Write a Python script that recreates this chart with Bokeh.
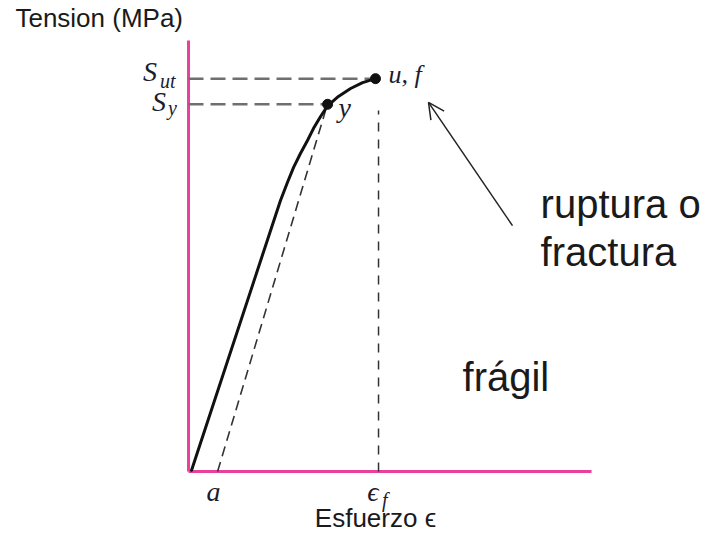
from bokeh.plotting import figure
from bokeh.models import Range1d, Arrow, OpenHead
from bokeh.core.properties import value
from bokeh.embed import file_html
from bokeh.resources import INLINE

# ---- data (strain normalised to eps_f = 1, stress normalised to S_ut = 1) ----
curve_strain = [0.016, 0.484, 0.521, 0.553, 0.589, 0.626, 0.658, 0.695, 0.732,
                0.789, 0.853, 0.916, 0.984]
curve_stress = [0.003, 0.688, 0.734, 0.772, 0.807, 0.840, 0.871, 0.901, 0.928,
                0.952, 0.972, 0.987, 0.997]

S_ut = 0.997
S_y = 0.932
eps_u = 0.984
eps_y = 0.732
eps_f = 1.0
a_off = 0.153
offset_end = [0.721, 0.916]

axis_x_end = 2.121
axis_y_end = 1.094

arrow_tail = [1.705, 0.624]
arrow_head = [1.263, 0.937]

pink = "#e9409c"
ink = "#1c1c30"

Y_PX = 394.0  # pixels per stress unit

p = figure(width=702, height=534, output_backend="svg", toolbar_location=None,
           x_range=Range1d(-0.9895, 2.705), y_range=Range1d(-0.1599, 1.1954),
           x_axis_type=None, y_axis_type=None, min_border=0)
p.outline_line_color = None
p.grid.visible = False

# axes (pink)
p.segment(x0=[0, 0], y0=[0, 0], x1=[axis_x_end, 0], y1=[0, axis_y_end],
          line_color=pink, line_width=3)

# horizontal dashed guides
p.segment(x0=[0, 0], y0=[S_ut, S_y], x1=[eps_u, eps_y - 0.02], y1=[S_ut, S_y],
          line_color="#6f6f6f", line_width=2.5, line_dash="15 7")
# vertical dashed at eps_f
p.segment(x0=[eps_f], y0=[0], x1=[eps_f], y1=[0.916],
          line_color="#333333", line_width=1.5, line_dash="9 8")
# offset (unloading) dashed line
p.segment(x0=[a_off], y0=[0], x1=[offset_end[0]], y1=[offset_end[1]],
          line_color="#333333", line_width=1.6, line_dash="10 6")

# curve
p.line(curve_strain, curve_stress, line_color="#111111", line_width=3,
       line_join="round", line_cap="round")
p.scatter([eps_y, eps_u], [S_y, S_ut], size=10, color="#111111")

# arrow
p.add_layout(Arrow(end=OpenHead(size=16, line_width=1.5, line_color="#222222"),
                   x_start=arrow_tail[0], y_start=arrow_tail[1],
                   x_end=arrow_head[0], y_end=arrow_head[1],
                   line_width=1.5, line_color="#222222"))

sans = value("Liberation Sans")
serif = value("Liberation Serif")

def txt(x, y, t, size, font, align="left", style="normal", color="#1a1a1a"):
    # compensate the renderer's downward offset of the alphabetic baseline
    shift = (0.15 * size + 5) / Y_PX
    p.text(x=[x], y=[y + shift], text=[t], text_font=font, text_font_size=f"{size}px",
           text_align=align, text_baseline="alphabetic", text_font_style=style,
           text_color=color)

txt(-0.911, 1.129, "Tension (MPa)", 26, sans)
txt(1.853, 0.650, "ruptura o", 40, sans)
txt(1.853, 0.528, "fractura", 40, sans)
txt(1.442, 0.211, "frágil", 40, sans)
txt(0.984, -0.140, "Esfuerzo \u03f5", 26, sans, align="center")

# math-like labels
txt(-0.240, 0.992, "S", 28, serif, style="italic", color=ink)
txt(-0.150, 0.970, "ut", 20, serif, style="italic", color=ink)
txt(-0.192, 0.916, "S", 28, serif, style="italic", color=ink)
txt(-0.108, 0.902, "y", 20, serif, style="italic", color=ink)
txt(0.132, -0.074, "a", 28, serif, align="center", style="italic", color=ink)
txt(0.940, -0.074, "\u03f5", 28, serif, style="italic", color=ink)
txt(1.018, -0.092, "f", 20, serif, style="italic", color=ink)
txt(1.053, 0.985, "u, f", 26, serif, style="italic", color=ink)
txt(0.789, 0.901, "y", 28, serif, style="italic", color=ink)

open("out.html", "w").write(file_html(p, INLINE))
